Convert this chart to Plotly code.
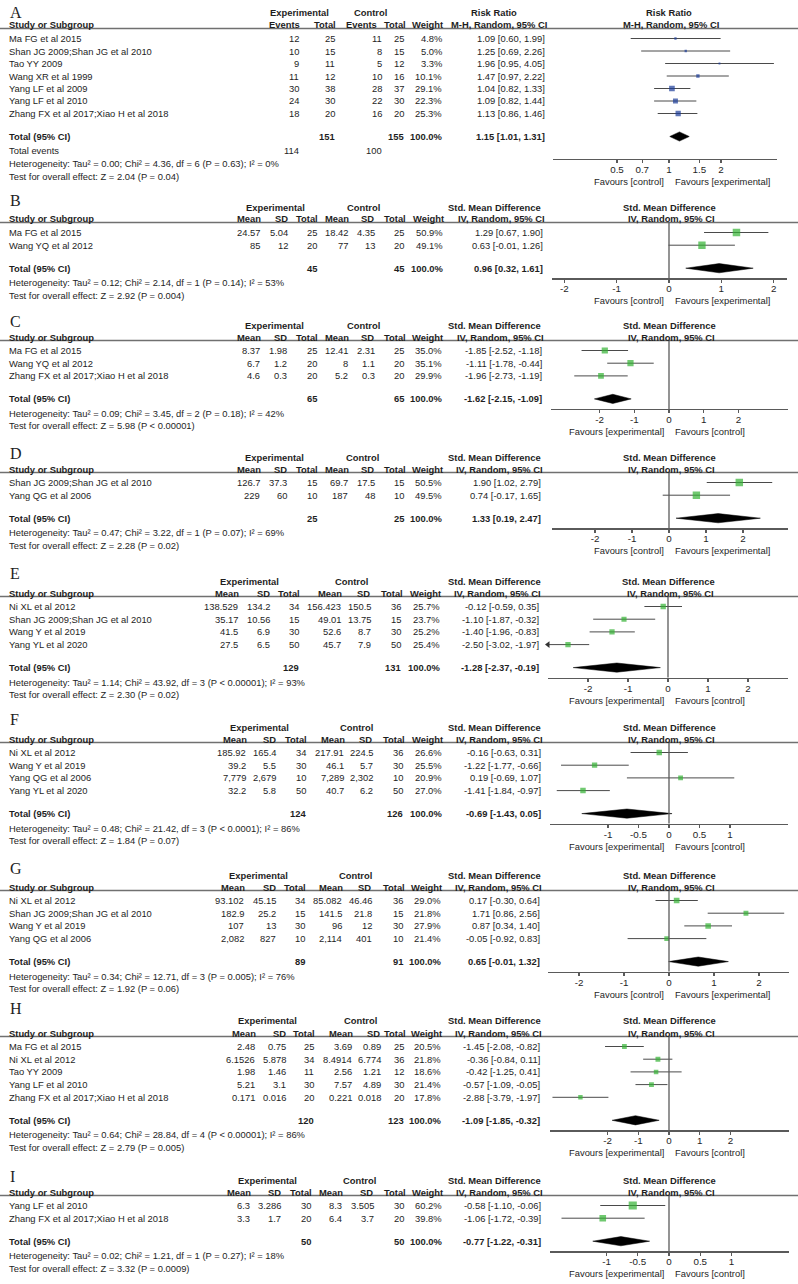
import math
import plotly.graph_objects as go

W, H = 798, 1284

# ======================= DATA =======================
# Panel A (Risk Ratio, dichotomous)
A_study = ["Ma FG et al 2015", "Shan JG 2009;Shan JG et al 2010", "Tao YY 2009",
           "Wang XR et al 1999", "Yang LF et al 2009", "Yang LF et al 2010",
           "Zhang FX et al 2017;Xiao H et al 2018"]
A_ev_e = [12, 10, 9, 11, 30, 24, 18]
A_n_e = [25, 15, 11, 12, 38, 30, 20]
A_ev_c = [11, 8, 5, 10, 28, 22, 16]
A_n_c = [25, 15, 12, 16, 37, 30, 20]
A_weight = [4.8, 5.0, 3.3, 10.1, 29.1, 22.3, 25.3]
A_est = [1.09, 1.25, 1.96, 1.47, 1.04, 1.09, 1.13]
A_lo = [0.60, 0.69, 0.95, 0.97, 0.82, 0.82, 0.86]
A_hi = [1.99, 2.26, 4.05, 2.22, 1.33, 1.44, 1.46]
A_tot_n = [151, 155]
A_tot_est = [1.15, 1.01, 1.31]
A_events = [114, 100]
A_het = "Heterogeneity: Tau² = 0.00; Chi² = 4.36, df = 6 (P = 0.63); I² = 0%"
A_test = "Test for overall effect: Z = 2.04 (P = 0.04)"

# Panel B
B_study = ["Ma FG et al 2015", "Wang YQ et al 2012"]
B_mean_e = ["24.57", "85"]
B_sd_e = ["5.04", "12"]
B_n_e = [25, 20]
B_mean_c = ["18.42", "77"]
B_sd_c = ["4.35", "13"]
B_n_c = [25, 20]
B_weight = [50.9, 49.1]
B_est = [1.29, 0.63]
B_lo = [0.67, -0.01]
B_hi = [1.90, 1.26]
B_tot_n = [45, 45]
B_tot_est = [0.96, 0.32, 1.61]
B_het = "Heterogeneity: Tau² = 0.12; Chi² = 2.14, df = 1 (P = 0.14); I² = 53%"
B_test = "Test for overall effect: Z = 2.92 (P = 0.004)"

# Panel C
C_study = ["Ma FG et al 2015", "Wang YQ et al 2012", "Zhang FX et al 2017;Xiao H et al 2018"]
C_mean_e = ["8.37", "6.7", "4.6"]
C_sd_e = ["1.98", "1.2", "0.3"]
C_n_e = [25, 20, 20]
C_mean_c = ["12.41", "8", "5.2"]
C_sd_c = ["2.31", "1.1", "0.3"]
C_n_c = [25, 20, 20]
C_weight = [35.0, 35.1, 29.9]
C_est = [-1.85, -1.11, -1.96]
C_lo = [-2.52, -1.78, -2.73]
C_hi = [-1.18, -0.44, -1.19]
C_tot_n = [65, 65]
C_tot_est = [-1.62, -2.15, -1.09]
C_het = "Heterogeneity: Tau² = 0.09; Chi² = 3.45, df = 2 (P = 0.18); I² = 42%"
C_test = "Test for overall effect: Z = 5.98 (P < 0.00001)"

# Panel D
D_study = ["Shan JG 2009;Shan JG et al 2010", "Yang QG et al 2006"]
D_mean_e = ["126.7", "229"]
D_sd_e = ["37.3", "60"]
D_n_e = [15, 10]
D_mean_c = ["69.7", "187"]
D_sd_c = ["17.5", "48"]
D_n_c = [15, 10]
D_weight = [50.5, 49.5]
D_est = [1.90, 0.74]
D_lo = [1.02, -0.17]
D_hi = [2.79, 1.65]
D_tot_n = [25, 25]
D_tot_est = [1.33, 0.19, 2.47]
D_het = "Heterogeneity: Tau² = 0.47; Chi² = 3.22, df = 1 (P = 0.07); I² = 69%"
D_test = "Test for overall effect: Z = 2.28 (P = 0.02)"

# Panel E
E_study = ["Ni XL et al 2012", "Shan JG 2009;Shan JG et al 2010", "Wang Y et al 2019", "Yang YL et al 2020"]
E_mean_e = ["138.529", "35.17", "41.5", "27.5"]
E_sd_e = ["134.2", "10.56", "6.9", "6.5"]
E_n_e = [34, 15, 30, 50]
E_mean_c = ["156.423", "49.01", "52.6", "45.7"]
E_sd_c = ["150.5", "13.75", "8.7", "7.9"]
E_n_c = [36, 15, 30, 50]
E_weight = [25.7, 23.7, 25.2, 25.4]
E_est = [-0.12, -1.10, -1.40, -2.50]
E_lo = [-0.59, -1.87, -1.96, -3.02]
E_hi = [0.35, -0.32, -0.83, -1.97]
E_tot_n = [129, 131]
E_tot_est = [-1.28, -2.37, -0.19]
E_het = "Heterogeneity: Tau² = 1.14; Chi² = 43.92, df = 3 (P < 0.00001); I² = 93%"
E_test = "Test for overall effect: Z = 2.30 (P = 0.02)"

# Panel F
F_study = ["Ni XL et al 2012", "Wang Y et al 2019", "Yang QG et al 2006", "Yang YL et al 2020"]
F_mean_e = ["185.92", "39.2", "7,779", "32.2"]
F_sd_e = ["165.4", "5.5", "2,679", "5.8"]
F_n_e = [34, 30, 10, 50]
F_mean_c = ["217.91", "46.1", "7,289", "40.7"]
F_sd_c = ["224.5", "5.7", "2,302", "6.2"]
F_n_c = [36, 30, 10, 50]
F_weight = [26.6, 25.5, 20.9, 27.0]
F_est = [-0.16, -1.22, 0.19, -1.41]
F_lo = [-0.63, -1.77, -0.69, -1.84]
F_hi = [0.31, -0.66, 1.07, -0.97]
F_tot_n = [124, 126]
F_tot_est = [-0.69, -1.43, 0.05]
F_het = "Heterogeneity: Tau² = 0.48; Chi² = 21.42, df = 3 (P < 0.0001); I² = 86%"
F_test = "Test for overall effect: Z = 1.84 (P = 0.07)"

# Panel G
G_study = ["Ni XL et al 2012", "Shan JG 2009;Shan JG et al 2010", "Wang Y et al 2019", "Yang QG et al 2006"]
G_mean_e = ["93.102", "182.9", "107", "2,082"]
G_sd_e = ["45.15", "25.2", "13", "827"]
G_n_e = [34, 15, 30, 10]
G_mean_c = ["85.082", "141.5", "96", "2,114"]
G_sd_c = ["46.46", "21.8", "12", "401"]
G_n_c = [36, 15, 30, 10]
G_weight = [29.0, 21.8, 27.9, 21.4]
G_est = [0.17, 1.71, 0.87, -0.05]
G_lo = [-0.30, 0.86, 0.34, -0.92]
G_hi = [0.64, 2.56, 1.40, 0.83]
G_tot_n = [89, 91]
G_tot_est = [0.65, -0.01, 1.32]
G_het = "Heterogeneity: Tau² = 0.34; Chi² = 12.71, df = 3 (P = 0.005); I² = 76%"
G_test = "Test for overall effect: Z = 1.92 (P = 0.06)"

# Panel H
H_study = ["Ma FG et al 2015", "Ni XL et al 2012", "Tao YY 2009", "Yang LF et al 2010",
           "Zhang FX et al 2017;Xiao H et al 2018"]
H_mean_e = ["2.48", "6.1526", "1.98", "5.21", "0.171"]
H_sd_e = ["0.75", "5.878", "1.46", "3.1", "0.016"]
H_n_e = [25, 34, 11, 30, 20]
H_mean_c = ["3.69", "8.4914", "2.56", "7.57", "0.221"]
H_sd_c = ["0.89", "6.774", "1.21", "4.89", "0.018"]
H_n_c = [25, 36, 12, 30, 20]
H_weight = [20.5, 21.8, 18.6, 21.4, 17.8]
H_est = [-1.45, -0.36, -0.42, -0.57, -2.88]
H_lo = [-2.08, -0.84, -1.25, -1.09, -3.79]
H_hi = [-0.82, 0.11, 0.41, -0.05, -1.97]
H_tot_n = [120, 123]
H_tot_est = [-1.09, -1.85, -0.32]
H_het = "Heterogeneity: Tau² = 0.64; Chi² = 28.84, df = 4 (P < 0.00001); I² = 86%"
H_test = "Test for overall effect: Z = 2.79 (P = 0.005)"

# Panel I
I_study = ["Yang LF et al 2010", "Zhang FX et al 2017;Xiao H et al 2018"]
I_mean_e = ["6.3", "3.3"]
I_sd_e = ["3.286", "1.7"]
I_n_e = [30, 20]
I_mean_c = ["8.3", "6.4"]
I_sd_c = ["3.505", "3.7"]
I_n_c = [30, 20]
I_weight = [60.2, 39.8]
I_est = [-0.58, -1.06]
I_lo = [-1.10, -1.72]
I_hi = [-0.06, -0.39]
I_tot_n = [50, 50]
I_tot_est = [-0.77, -1.22, -0.31]
I_het = "Heterogeneity: Tau² = 0.02; Chi² = 1.21, df = 1 (P = 0.27); I² = 18%"
I_test = "Test for overall effect: Z = 3.32 (P = 0.0009)"

TICKS_2 = [-2, -1, 0, 1, 2]
TICKS_1 = [-1, -0.5, 0, 0.5, 1]
TICKS_RR = [0.5, 0.7, 1, 1.5, 2]
FAV_CE = ("Favours [control]", "Favours [experimental]")
FAV_EC = ("Favours [experimental]", "Favours [control]")

g = globals()
DATA = {}
for key in "ABCDEFGHI":
    d = dict(study=g[key + "_study"], weight=g[key + "_weight"], est=g[key + "_est"],
             lo=g[key + "_lo"], hi=g[key + "_hi"], tot_n=g[key + "_tot_n"],
             tot_est=g[key + "_tot_est"], het=g[key + "_het"], test=g[key + "_test"])
    if key == "A":
        d["cols"] = [A_ev_e, A_n_e, A_ev_c, A_n_c]
    else:
        d["cols"] = [g[key + "_mean_e"], g[key + "_sd_e"], g[key + "_n_e"],
                     g[key + "_mean_c"], g[key + "_sd_c"], g[key + "_n_c"]]
    DATA[key] = d

# ======================= LAYOUT (pixel positions) =======================
LAY = {
    "A": dict(letter_y=12, h1=13, cols=[300, 336, 383, 405], w=443, ci=546, exp_c=299, ctl_c=370,
              hcols=[301, 337, 378, 407],
              dom=(553, 777), zero=669, scale=172.7, log=True, ticks=TICKS_RR, fav=FAV_CE),
    "B": dict(letter_y=200, h1=207, cols=[261, 289, 318, 349, 376, 405], w=444, ci=544, exp_c=275, ctl_c=363,
              dom=(552, 787), zero=669, scale=52.3, log=False, ticks=TICKS_2, fav=FAV_CE),
    "C": dict(letter_y=322, h1=325, cols=[261, 288, 318, 349, 376, 405], w=443, ci=543, exp_c=274, ctl_c=363,
              dom=(551, 788), zero=669, scale=34.7, log=False, ticks=TICKS_2, fav=FAV_EC),
    "D": dict(letter_y=453, h1=457, cols=[261, 288, 318, 349, 376, 405], w=443, ci=542, exp_c=274, ctl_c=362,
              dom=(552, 788), zero=669, scale=37.0, log=False, ticks=TICKS_2, fav=FAV_CE),
    "E": dict(letter_y=573, h1=581, cols=[239, 271, 300, 342, 372, 402], w=441, ci=540, exp_c=249, ctl_c=351,
              dom=(548, 788), zero=668, scale=40.0, log=False, ticks=TICKS_2, fav=FAV_EC),
    "F": dict(letter_y=720, h1=727, cols=[247, 277, 307, 345, 374, 404], w=443, ci=542, exp_c=259, ctl_c=356,
              dom=(550, 788), zero=669, scale=61.0, log=False, ticks=TICKS_1, fav=FAV_EC),
    "G": dict(letter_y=868, h1=875, cols=[245, 277, 306, 343, 373, 404], w=442, ci=541, exp_c=258, ctl_c=355,
              dom=(548, 789), zero=669, scale=45.0, log=False, ticks=TICKS_2, fav=FAV_CE),
    "H": dict(letter_y=1008, h1=1021, cols=[256, 287, 315, 353, 382, 405], w=442, ci=541, exp_c=267, ctl_c=360,
              dom=(550, 789), zero=669, scale=30.75, log=False, ticks=TICKS_2, fav=FAV_EC),
    "I": dict(letter_y=1176, h1=1180, cols=[251, 282, 312, 343, 375, 405], w=443, ci=542, exp_c=267, ctl_c=359,
              dom=(550, 789), zero=669, scale=62.5, log=False, ticks=TICKS_1, fav=FAV_EC),
}

FONT = "Liberation Sans, Arial, sans-serif"
TXT = "#1e1e1e"
FS = 9.4
LINE = "#5a5a5a"
GREEN = "#33b233"
BLUE = "#1b3c98"

fig = go.Figure()
ann = []
shapes = []
layout_axes = {}


def txt(x, y, s, anchor="left", bold=False, size=FS, family=FONT, color=TXT):
    ann.append(dict(x=x / W, y=1 - y / H, xref="paper", yref="paper",
                    text=f"<b>{s}</b>" if bold else s, showarrow=False,
                    xanchor=anchor, yanchor="middle", borderpad=0,
                    font=dict(family=family, size=size, color=color)))


def fmt_ci(e, lo, hi):
    return f"{e:.2f} [{lo:.2f}, {hi:.2f}]"


for k, key in enumerate("ABCDEFGHI"):
    L = LAY[key]
    D = DATA[key]
    idx = "" if k == 0 else str(k + 1)
    xa, ya = "x" + idx, "y" + idx
    n = len(D["study"])
    sp = 12.5 if key == "A" else 12.7
    line_y = L["h1"] + 15.5
    row0 = L["h1"] + 25.5
    rows = [row0 + i * sp for i in range(n)]
    tot_y = rows[-1] + 23
    extra = 12.5 if key == "A" else 0
    axis_y = tot_y + 10 + extra
    het_y = tot_y + 14.5 + extra
    test_y = tot_y + 27 + extra
    fav_y = axis_y + 22.5
    is_rr = L["log"]

    # ---- header text ----
    txt(9, L["letter_y"], key, size=16, family="Liberation Serif, Times New Roman, serif")
    h2 = L["h1"] + 12
    txt(L["exp_c"], L["h1"], "Experimental", "center", True)
    txt(L["ctl_c"], L["h1"], "Control", "center", True)
    title1 = "Risk Ratio" if is_rr else "Std. Mean Difference"
    title2 = "M-H, Random, 95% CI" if is_rr else "IV, Random, 95% CI"
    txt(494, L["h1"], title1, "center", True)
    txt(L["zero"], L["h1"], title1, "center", True)
    txt(L["ci"] + 2, h2, title2, "right", True)
    txt(L["zero"] + 2, h2, title2, "center", True)
    txt(8, h2, "Study or Subgroup", "left", True)
    if is_rr:
        heads = ["Events", "Total", "Events", "Total"]
        hcols = L["hcols"]
    else:
        heads = ["Mean", "SD", "Total", "Mean", "SD", "Total"]
        c = L["cols"]
        hcols = [c[0] + 1, c[1], c[2] + 1, c[3] + 1, c[4] - 1, c[5] + 2]
    for hx, hd in zip(hcols, heads):
        txt(hx, h2, hd, "right", True)
    txt(L["w"] + 1, h2, "Weight", "right", True)

    shapes.append(dict(type="line", xref="paper", yref="paper", x0=0, x1=1,
                       y0=1 - line_y / H, y1=1 - line_y / H,
                       line=dict(color="#707070", width=1.5)))

    # ---- study rows ----
    for i in range(n):
        y = rows[i]
        txt(8, y, D["study"][i])
        for cx, col in zip(L["cols"], D["cols"]):
            txt(cx, y, str(col[i]), "right")
        txt(L["w"], y, f"{D['weight'][i]:.1f}%", "right")
        txt(L["ci"], y, fmt_ci(D["est"][i], D["lo"][i], D["hi"][i]), "right")

    # ---- total rows ----
    txt(8, tot_y, "Total (95% CI)", "left", True)
    if is_rr:
        tot_cols = [L["cols"][1], L["cols"][3]]
    else:
        tot_cols = [L["cols"][2], L["cols"][5]]
    txt(tot_cols[0], tot_y, str(D["tot_n"][0]), "right", True)
    txt(tot_cols[1], tot_y, str(D["tot_n"][1]), "right", True)
    txt(L["w"], tot_y, "100.0%", "right", True)
    te = D["tot_est"]
    txt(L["ci"], tot_y, fmt_ci(te[0], te[1], te[2]), "right", True)
    if is_rr:
        txt(8, tot_y + 14, "Total events")
        txt(L["cols"][0], tot_y + 14, str(A_events[0]), "right")
        txt(L["cols"][2], tot_y + 14, str(A_events[1]), "right")
    txt(8, het_y, D["het"])
    txt(8, test_y, D["test"])

    # ---- favours ----
    txt(665, fav_y, L["fav"][0], "right")
    txt(674, fav_y, L["fav"][1], "left")

    # ---- axes ----
    r0 = (L["dom"][0] - L["zero"]) / L["scale"]
    r1 = (L["dom"][1] - L["zero"]) / L["scale"]
    xaxis = dict(domain=[L["dom"][0] / W, L["dom"][1] / W], range=[r0, r1], anchor=ya,
                 showline=True, linecolor=LINE, linewidth=1.3, ticks="outside", ticklen=3,
                 tickwidth=1.3, tickcolor=LINE, showgrid=False, zeroline=False, fixedrange=True,
                 tickvals=L["ticks"], ticktext=[f"{t:g}" for t in L["ticks"]],
                 ticklabelstandoff=-2,
                 tickfont=dict(family=FONT, size=9.8, color=TXT))
    if is_rr:
        xaxis["type"] = "log"
    yaxis = dict(domain=[1 - axis_y / H, 1 - line_y / H], range=[axis_y, line_y], anchor=xa,
                 visible=False, showgrid=False, zeroline=False, fixedrange=True)
    layout_axes["xaxis" + idx] = xaxis
    layout_axes["yaxis" + idx] = yaxis

    null_x = math.log10(1.0) if is_rr else 0
    shapes.append(dict(type="line", xref=xa, yref=ya + " domain", x0=null_x, x1=null_x, y0=0, y1=1,
                       line=dict(color=LINE, width=1.3)))

    # ---- CI lines ----
    cx, cy = [], []
    for i in range(n):
        cx += [D["lo"][i], D["hi"][i], None]
        cy += [rows[i], rows[i], None]
    fig.add_trace(go.Scatter(x=cx, y=cy, mode="lines", xaxis=xa, yaxis=ya,
                             line=dict(color="#4a4a4a", width=1), hoverinfo="skip"))

    # arrows for CIs running beyond the axis
    xmin = 10 ** r0 if is_rr else r0
    ax_pts = [(xmin, rows[i]) for i in range(n) if D["lo"][i] < xmin]
    if ax_pts:
        fig.add_trace(go.Scatter(x=[p[0] for p in ax_pts], y=[p[1] for p in ax_pts], mode="markers",
                                 xaxis=xa, yaxis=ya, cliponaxis=False,
                                 marker=dict(symbol="triangle-left", size=6, color="#333"),
                                 hoverinfo="skip"))

    # ---- study squares ----
    fig.add_trace(go.Scatter(x=D["est"], y=rows, mode="markers", xaxis=xa, yaxis=ya,
                             marker=dict(symbol="square", color=BLUE if is_rr else GREEN,
                                         size=[1.05 * math.sqrt(w) for w in D["weight"]],
                                         line=dict(width=0)),
                             hoverinfo="skip"))

    # ---- diamond ----
    hh = 4.6
    fig.add_trace(go.Scatter(x=[te[1], te[0], te[2], te[0], te[1]],
                             y=[tot_y, tot_y - hh, tot_y, tot_y + hh, tot_y],
                             mode="lines", fill="toself", fillcolor="black",
                             line=dict(color="black", width=0.5), xaxis=xa, yaxis=ya,
                             hoverinfo="skip"))

fig.update_layout(width=W, height=H, margin=dict(l=0, r=0, t=0, b=0),
                  paper_bgcolor="white", plot_bgcolor="white", showlegend=False,
                  annotations=ann, shapes=shapes, **layout_axes)
fig.write_html("out.html", config={"displayModeBar": False, "staticPlot": True},
               post_script="document.body.style.margin='0';document.body.style.padding='0';")
